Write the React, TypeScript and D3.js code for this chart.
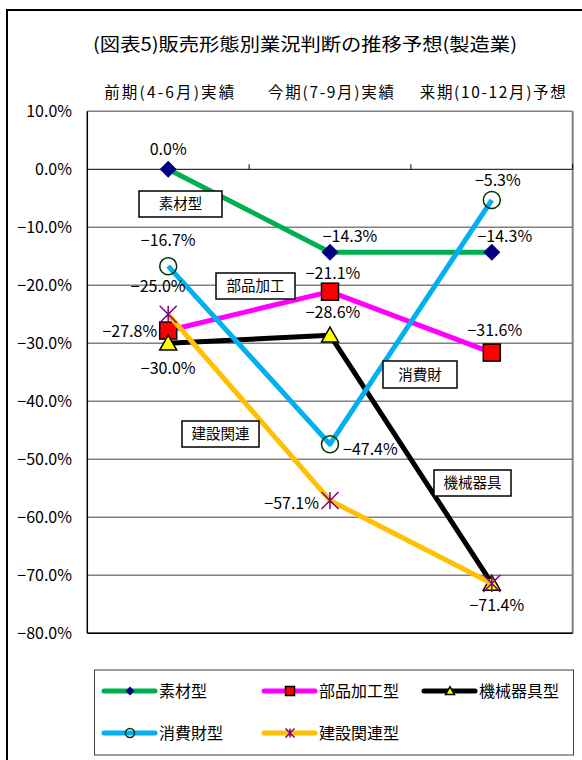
import React from "react";
import * as d3 from "d3";

const title = "(図表5)販売形態別業況判断の推移予想(製造業)";
const categories = ["前期(4-6月)実績", "今期(7-9月)実績", "来期(10-12月)予想"];
const seriesNames = ["素材型", "部品加工型", "機械器具型", "消費財型", "建設関連型"];
const sozai = [0.0, -14.3, -14.3];
const buhin = [-27.8, -21.1, -31.6];
const kikai = [-30.0, -28.6, -71.4];
const shohi = [-16.7, -47.4, -5.3];
const kensetsu = [-25.0, -57.1, -71.4];
const yTicks = [10, 0, -10, -20, -30, -40, -50, -60, -70, -80];
const annotations = ["素材型", "部品加工", "機械器具", "消費財", "建設関連"];

const FONT = "'Noto Sans CJK JP', 'Noto Sans', sans-serif";

const W = 582, H = 760;
const plotL = 87.3, plotR = 572.7, plotT = 111.3, plotB = 633.3;

type Marker = "diamond" | "square" | "triangle" | "circle" | "star";

const seriesDefs: { name: string; values: number[]; color: string; marker: Marker }[] = [
  { name: seriesNames[0], values: sozai, color: "#00B050", marker: "diamond" },
  { name: seriesNames[1], values: buhin, color: "#FF00FF", marker: "square" },
  { name: seriesNames[2], values: kikai, color: "#000000", marker: "triangle" },
  { name: seriesNames[3], values: shohi, color: "#00B0F0", marker: "circle" },
  { name: seriesNames[4], values: kensetsu, color: "#FFC000", marker: "star" },
];

// label placement: [dx, dy, anchor, show] relative to point
const labelOffsets: [number, number, string, boolean][][] = [
  [[0, -14, "middle", true], [20, -10, "middle", true], [13, -10, "middle", true]],
  [[-11, 6, "end", true], [3, -13, "middle", true], [3, -17, "middle", true]],
  [[0, 31, "middle", true], [3, -17, "middle", true], [5, 28, "middle", true]],
  [[0, -20, "middle", true], [13, 11, "start", true], [6, -14, "middle", true]],
  [[-10, -22, "middle", true], [-11, 9, "end", true], [5, 28, "middle", false]],
];

const annBoxes = [
  { x: 139, y: 191, w: 83, h: 26 },
  { x: 216, y: 273, w: 79, h: 26 },
  { x: 434, y: 470, w: 77, h: 26 },
  { x: 383, y: 361, w: 74, h: 27 },
  { x: 182, y: 421, w: 77, h: 26 },
];

const catLens = [130, 126, 146];

const fmt = (v: number) => d3.format(".1f")(v).replace("-", "−") + "%";

function MarkerShape({ type, x, y, s }: { type: Marker; x: number; y: number; s: number }) {
  const h = s / 2;
  switch (type) {
    case "diamond":
      return <path d={`M${x},${y - h}L${x + h},${y}L${x},${y + h}L${x - h},${y}Z`} fill="#000080" />;
    case "square":
      return <rect x={x - h} y={y - h} width={s} height={s} fill="#FF0000" stroke="#000" strokeWidth={1.5} />;
    case "triangle":
      return (
        <path d={`M${x},${y - h * 0.95}L${x + h},${y + h * 0.8}L${x - h},${y + h * 0.8}Z`} fill="#FFFF00" stroke="#000" strokeWidth={1.5} />
      );
    case "circle":
      return <circle cx={x} cy={y} r={h} fill="none" stroke="#003300" strokeWidth={1.5} />;
    case "star":
      return (
        <path
          d={`M${x - h},${y - h}L${x + h},${y + h}M${x + h},${y - h}L${x - h},${y + h}M${x},${y - h}L${x},${y + h}`}
          stroke="#800080"
          strokeWidth={1.5}
          fill="none"
        />
      );
  }
  return null;
}

export default function App() {
  const x = d3.scaleBand<string>().domain(categories).range([plotL, plotR]);
  const cx = (i: number) => (x(categories[i]) as number) + x.bandwidth() / 2;
  const y = d3.scaleLinear().domain([-80, 10]).range([plotB, plotT]);
  const line = d3
    .line<number>()
    .x((_, i) => cx(i))
    .y((d) => y(d));

  const legendItems = [
    { s: seriesDefs[0], lx: 104, ly: 691 },
    { s: seriesDefs[1], lx: 264, ly: 691 },
    { s: seriesDefs[2], lx: 424, ly: 691 },
    { s: seriesDefs[3], lx: 104, ly: 733 },
    { s: seriesDefs[4], lx: 264, ly: 733 },
  ];

  return (
    <svg width={W} height={H} style={{ position: "absolute", left: 0, top: 0 }} fontFamily={FONT}>
      <rect x={0} y={0} width={W} height={H} fill="#fff" />
      <rect x={7} y={10} width={620} height={800} fill="#fff" stroke="#000" strokeWidth={2} />
      <text x={305} y={51} fontSize={18} textAnchor="middle" textLength={424} lengthAdjust="spacingAndGlyphs">
        {title}
      </text>
      {categories.map((c, i) => (
        <text key={c} x={cx(i) + 1} y={98} fontSize={15.5} textAnchor="middle" textLength={catLens[i]} lengthAdjust="spacing">
          {c}
        </text>
      ))}
      {/* gridlines */}
      {yTicks.map((t) => (
        <line
          key={t}
          x1={plotL}
          x2={plotR}
          y1={y(t)}
          y2={y(t)}
          stroke={t === 0 ? "#000" : "#808080"}
          strokeWidth={t === 0 ? 1 : 1.5}
        />
      ))}
      <line x1={plotR} x2={plotR} y1={plotT} y2={plotB} stroke="#808080" strokeWidth={2} />
      <line x1={plotL} x2={plotR} y1={plotB} y2={plotB} stroke="#000" strokeWidth={1.5} />
      <line x1={plotL} x2={plotL} y1={plotT} y2={plotB} stroke="#000" strokeWidth={1.5} />
      {/* category boundary ticks on zero axis */}
      {categories.map((c, i) => {
        const bx = (x(c) as number) + x.bandwidth();
        return <line key={"tk" + i} x1={bx} x2={bx} y1={y(0)} y2={y(0) - 5} stroke="#000" strokeWidth={1} />;
      })}
      {yTicks.map((t) => (
        <text key={"yl" + t} x={72} y={y(t) + 6} fontSize={16} textAnchor="end">
          {fmt(t)}
        </text>
      ))}
      {/* series */}
      {seriesDefs.map((s) => (
        <g key={s.name}>
          <path d={line(s.values) || ""} fill="none" stroke={s.color} strokeWidth={5} strokeLinejoin="round" />
          {s.values.map((v, i) => (
            <MarkerShape key={i} type={s.marker} x={cx(i)} y={y(v)} s={17} />
          ))}
        </g>
      ))}
      {/* data labels */}
      {seriesDefs.map((s, si) =>
        s.values.map((v, i) => {
          const [dx, dy, anchor, show] = labelOffsets[si][i];
          if (!show) return null;
          return (
            <text key={s.name + "l" + i} x={cx(i) + dx} y={y(v) + dy} fontSize={16} textAnchor={anchor as any}>
              {fmt(v)}
            </text>
          );
        })
      )}
      {/* annotation boxes */}
      {annBoxes.map((b, i) => (
        <g key={"ann" + i}>
          <rect x={b.x} y={b.y} width={b.w} height={b.h} fill="#fff" stroke="#000" strokeWidth={1.5} />
          <text x={b.x + b.w / 2} y={b.y + b.h / 2 + 5} fontSize={14.5} textAnchor="middle">
            {annotations[i]}
          </text>
        </g>
      ))}
      {/* legend */}
      <rect x={94.5} y={670} width={479} height={85} fill="#fff" stroke="#404040" strokeWidth={1} />
      {legendItems.map(({ s, lx, ly }) => (
        <g key={"lg" + s.name}>
          <line x1={lx} x2={lx + 51} y1={ly} y2={ly} stroke={s.color} strokeWidth={5} strokeLinecap="round" />
          <MarkerShape type={s.marker} x={lx + 26} y={ly} s={9} />
          <text x={lx + 55} y={ly + 6} fontSize={16}>
            {s.name}
          </text>
        </g>
      ))}
    </svg>
  );
}
